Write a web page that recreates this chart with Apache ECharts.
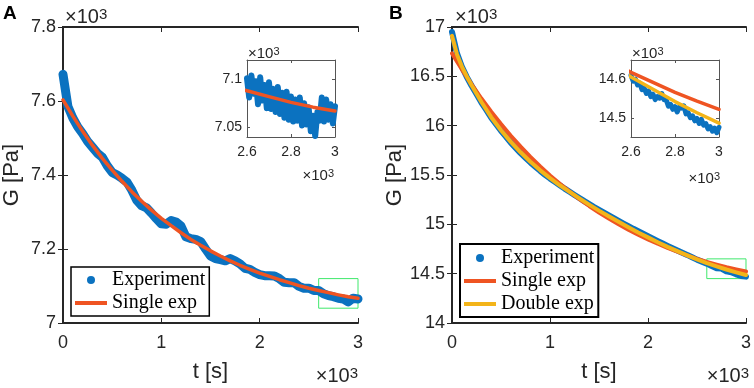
<!DOCTYPE html>
<html lang="en">
<head>
<meta charset="UTF-8">
<script src="https://cdn.jsdelivr.net/npm/echarts@6/dist/echarts.min.js"></script>
<style>
    html, body { margin: 0; padding: 0; background: #fff; }
    #chart { width: 754px; height: 388px; }
</style>
</head>
<body>
<div id="chart"></div>
<script>
    // time grids [s]
    var t50 = [0, 50, 100, 150, 200, 250, 300, 350, 400, 450, 500, 550, 600, 650, 700, 750, 800, 850, 900, 950,
        1000, 1050, 1100, 1150, 1200, 1250, 1300, 1350, 1400, 1450, 1500, 1550, 1600, 1650, 1700, 1750, 1800, 1850, 1900, 1950,
        2000, 2050, 2100, 2150, 2200, 2250, 2300, 2350, 2400, 2450, 2500, 2550, 2600, 2650, 2700, 2750, 2800, 2850, 2900, 2950, 3000];
    var t100 = [0, 100, 200, 300, 400, 500, 600, 700, 800, 900, 1000, 1100, 1200, 1300, 1400, 1500, 1600, 1700, 1800, 1900,
        2000, 2100, 2200, 2300, 2400, 2500, 2600, 2700, 2800, 2900, 3000];
    var tDouble = [0, 50, 100, 150, 200, 300, 400, 500, 600, 700, 800, 900, 1000, 1100, 1200, 1300, 1400, 1500, 1600, 1700,
        1800, 1900, 2000, 2100, 2200, 2300, 2400, 2500, 2600, 2700, 2800, 2900, 3000];
    var tZoom = [2600, 2610, 2620, 2630, 2640, 2650, 2660, 2670, 2680, 2690, 2700, 2710, 2720, 2730, 2740, 2750, 2760, 2770, 2780, 2790,
        2800, 2810, 2820, 2830, 2840, 2850, 2860, 2870, 2880, 2890, 2900, 2910, 2920, 2930, 2940, 2950, 2960, 2970, 2980, 2990, 3000];

    // panel A, G [Pa]
    var expA = [7672, 7585, 7554, 7530, 7512, 7491, 7475, 7459, 7448, 7425, 7407, 7400, 7391, 7381, 7359, 7332, 7317, 7311, 7297, 7282,
        7268, 7267, 7277, 7273, 7262, 7233, 7228, 7226, 7220, 7200, 7181, 7174, 7171, 7168, 7174, 7168, 7160, 7148, 7145, 7137,
        7131, 7128, 7128, 7127, 7120, 7110, 7109, 7109, 7099, 7094, 7094, 7088, 7088, 7079, 7074, 7071, 7067, 7065, 7057, 7067, 7065];
    var singleA = [7603, 7559, 7518, 7480, 7445, 7413, 7383, 7355, 7329, 7305, 7283, 7263, 7244, 7226, 7210, 7195, 7181, 7168, 7156, 7145,
        7135, 7126, 7117, 7109, 7101, 7094, 7088, 7082, 7076, 7071, 7067];
    var expAZoom = [7101, 7081, 7104, 7085, 7098, 7074, 7102, 7078, 7094, 7070, 7097, 7069, 7090, 7066, 7092, 7064, 7086, 7060, 7087, 7058,
        7082, 7056, 7079, 7057, 7081, 7052, 7075, 7053, 7071, 7046, 7062, 7041, 7066, 7057, 7081, 7056, 7079, 7058, 7074, 7054, 7072];

    // panel B, G [Pa]
    var expB = [16950, 16735, 16600, 16495, 16405, 16320, 16235, 16160, 16080, 16015, 15948, 15890, 15828, 15775, 15722, 15675, 15628, 15585, 15542, 15502,
        15465, 15430, 15396, 15362, 15330, 15298, 15267, 15235, 15205, 15175, 15147, 15118, 15090, 15062, 15035, 15008, 14982, 14955, 14930, 14905,
        14880, 14855, 14830, 14806, 14782, 14758, 14735, 14712, 14690, 14666, 14642, 14622, 14602, 14578, 14556, 14552, 14524, 14515, 14493, 14476, 14470];
    var singleB = [16733, 16571, 16418, 16275, 16141, 16016, 15898, 15788, 15684, 15587, 15496, 15411, 15331, 15256, 15186, 15120, 15059, 15001, 14946, 14895,
        14848, 14803, 14761, 14722, 14685, 14650, 14618, 14592, 14566, 14543, 14522];
    var doubleB = [16910, 16725, 16601, 16501, 16410, 16240, 16086, 15954, 15836, 15730, 15634, 15547, 15468, 15396, 15328, 15263, 15200, 15139, 15081, 15025,
        14970, 14917, 14868, 14819, 14772, 14728, 14685, 14644, 14606, 14574, 14542, 14513, 14486];
    var expBZoom = [14610, 14595, 14600, 14585, 14590, 14573, 14577, 14563, 14570, 14555, 14561, 14547, 14555, 14551, 14563, 14547, 14547, 14530, 14535, 14522,
        14529, 14515, 14528, 14525, 14531, 14510, 14513, 14500, 14505, 14492, 14498, 14485, 14496, 14481, 14485, 14471, 14477, 14465, 14473, 14461, 14475];

    // ticks of the insets
    var zoomTicksA = [7050, 7100];
    var zoomTicksB = [14500, 14600];

    var SANS = 'Liberation Sans', SERIF = 'Liberation Serif';
    var BLUE = '#0b72c0', RED = '#ef5422', YELLOW = '#f3b419', INK = '#262626';

    function pairs(t, g) {
        return t.map(function (v, i) { return [v, g[i]]; });
    }
    function kilo(v) { return String(v / 1000); }

    function xAxes(grid, min, max, interval, big) {
        var line = {show: true, lineStyle: {color: big ? INK : '#555', width: big ? 2 : 1}};
        var tick = {show: true, inside: true, length: big ? 5 : 3, lineStyle: {color: big ? INK : '#555', width: 1}};
        var z = big ? 0 : 12;
        return [{
            type: 'value', gridIndex: grid, min: min, max: max, interval: interval, z: z,
            axisLine: line, axisTick: tick, splitLine: {show: false},
            axisLabel: {formatter: kilo, color: INK, fontFamily: SANS, fontSize: big ? 18 : 14, margin: big ? 11 : 8},
            name: big ? 't [s]' : '', nameLocation: 'middle', nameGap: 38,
            nameTextStyle: {color: INK, fontFamily: SANS, fontSize: 22}
        }, {
            type: 'value', gridIndex: grid, min: min, max: max, interval: interval, position: 'top', z: z,
            axisLine: line, axisTick: tick, splitLine: {show: false}, axisLabel: {show: false}
        }];
    }

    function yAxes(grid, min, max, interval, custom, big) {
        var line = {show: true, lineStyle: {color: big ? INK : '#555', width: big ? 2 : 1}};
        var tick = {show: true, inside: true, length: big ? 5 : 3, lineStyle: {color: big ? INK : '#555', width: 1}};
        if (custom) tick.customValues = custom;
        var label = {formatter: kilo, color: INK, fontFamily: SANS, fontSize: big ? 18 : 14, margin: big ? 7 : 5};
        if (custom) label.customValues = custom;
        var z = big ? 0 : 12;
        return [{
            type: 'value', gridIndex: grid, min: min, max: max, interval: interval, z: z,
            axisLine: line, axisTick: tick, splitLine: {show: false}, axisLabel: label,
            name: big ? 'G [Pa]' : '', nameLocation: 'middle', nameGap: 40,
            nameTextStyle: {color: INK, fontFamily: SANS, fontSize: 22}
        }, {
            type: 'value', gridIndex: grid, min: min, max: max, interval: interval, position: 'right', z: z,
            axisLine: line, axisTick: tick, splitLine: {show: false}, axisLabel: {show: false}
        }];
    }

    // "x10^3" exponent labels
    function expo(x, y, big, right) {
        return {
            type: 'text', left: right ? null : x, right: right ? 754 - x : null, top: y, z: 20,
            style: {
                text: '{a|×10}{b|3}',
                rich: {
                    a: {fontFamily: SANS, fontSize: big ? 20 : 15, lineHeight: big ? 20 : 15, padding: [big ? 6 : 5, 0, 0, 0], verticalAlign: 'bottom', fill: INK},
                    b: {fontFamily: SANS, fontSize: big ? 15 : 11, verticalAlign: 'top', fill: INK}
                }
            }
        };
    }

    function line(name, xi, data, color, width, z) {
        return {
            name: name, type: 'line', xAxisIndex: xi, yAxisIndex: xi, data: data,
            symbol: 'none', z: z, lineStyle: {color: color, width: width, join: 'round', cap: 'round'},
            itemStyle: {color: color}, animation: false
        };
    }

    function greenBox(x0, y0, x1, y1) {
        return {
            silent: true,
            itemStyle: {color: 'rgba(0,0,0,0)', borderColor: '#3fe86c', borderWidth: 1},
            data: [[{coord: [x0, y0]}, {coord: [x1, y1]}]]
        };
    }

    var lineIcon = 'path://M0,0H32V4H0Z';

    var chart = echarts.init(document.getElementById('chart'));

    var sA = line('Single exp', 0, pairs(t100, singleA), RED, 3.5, 3);
    sA.markArea = greenBox(2600, 7040, 3000, 7120);
    var sB = line('Single exp', 4, pairs(t100, singleB), RED, 4, 3);
    sB.markArea = greenBox(2600, 14450, 3000, 14650);

    var option = {
        animation: false,
        backgroundColor: '#fff',
        grid: [
            {left: 62, top: 27, width: 296, height: 297},
            {left: 247, top: 60, width: 88, height: 77, show: true, backgroundColor: '#fff', borderWidth: 0, z: 10},
            {left: 452, top: 27, width: 297, height: 297},
            {left: 631, top: 60, width: 88, height: 77, show: true, backgroundColor: '#fff', borderWidth: 0, z: 10}
        ],
        xAxis: [].concat(
            xAxes(0, 0, 3000, 1000, true),
            xAxes(1, 2600, 3000, 200, false),
            xAxes(2, 0, 3000, 1000, true),
            xAxes(3, 2600, 3000, 200, false)
        ),
        yAxis: [].concat(
            yAxes(0, 7000, 7800, 200, null, true),
            yAxes(1, 7040, 7120, null, zoomTicksA, false),
            yAxes(2, 14000, 17000, 500, null, true),
            yAxes(3, 14450, 14650, null, zoomTicksB, false)
        ),
        legend: [{
            orient: 'vertical', left: 71, top: 267, padding: [3, 4, 3, 4],
            itemWidth: 32, itemHeight: 8, itemGap: 3, symbolKeepAspect: true,
            borderColor: '#000', borderWidth: 1.5, backgroundColor: '#fff',
            textStyle: {fontFamily: SERIF, fontSize: 20, color: '#000'},
            data: [
                {name: 'Experiment', icon: 'circle', itemStyle: {color: BLUE, borderWidth: 0}},
                {name: 'Single exp', icon: lineIcon, itemStyle: {color: RED, borderWidth: 0}}
            ]
        }, {
            orient: 'vertical', left: 460, top: 244, padding: [4, 4, 3, 4], itemGap: 3,
            itemWidth: 32, itemHeight: 8, symbolKeepAspect: true,
            borderColor: '#000', borderWidth: 2, backgroundColor: '#fff',
            textStyle: {fontFamily: SERIF, fontSize: 20, color: '#000'},
            data: [
                {name: 'Experiment', icon: 'circle', itemStyle: {color: BLUE, borderWidth: 0}},
                {name: 'Single exp', icon: lineIcon, itemStyle: {color: RED, borderWidth: 0}},
                {name: 'Double exp', icon: lineIcon, itemStyle: {color: YELLOW, borderWidth: 0}}
            ]
        }],
        graphic: [
            {type: 'text', left: 3, top: 4, style: {text: 'A', fontFamily: SANS, fontWeight: 'bold', fontSize: 19, fill: '#000'}},
            {type: 'text', left: 389, top: 4, style: {text: 'B', fontFamily: SANS, fontWeight: 'bold', fontSize: 19, fill: '#000'}},
            expo(65, 1, true, false),
            expo(358, 360, true, true),
            expo(248, 41, false, false),
            expo(334, 163, false, true),
            expo(455, 1, true, false),
            expo(749, 360, true, true),
            expo(632, 41, false, false),
            expo(720, 166, false, true)
        ],
        series: [
            line('Experiment', 0, pairs(t50, expA), BLUE, 9, 2),
            sA,
            line('Experiment', 2, pairs(tZoom, expAZoom), BLUE, 6, 14),
            line('Single exp', 2, pairs(t100, singleA), RED, 3.5, 15),

            line('Experiment', 4, pairs(t50, expB), BLUE, 6, 2),
            sB,
            line('Double exp', 4, pairs(tDouble, doubleB), YELLOW, 4, 4),
            line('Experiment', 6, pairs(tZoom, expBZoom), BLUE, 5, 14),
            line('Single exp', 6, pairs(t100, singleB), RED, 3.5, 15),
            line('Double exp', 6, pairs(tDouble, doubleB), YELLOW, 3.5, 16)
        ]
    };

    chart.setOption(option);
</script>
</body>
</html>
